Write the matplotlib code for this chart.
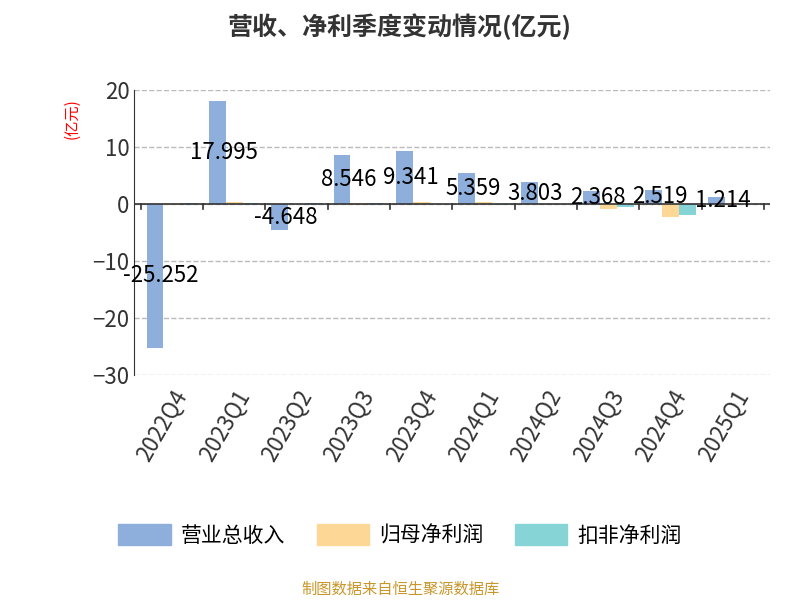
import matplotlib.pyplot as plt
import numpy as np

plt.rcParams["font.family"] = ["Noto Sans CJK SC", "DejaVu Sans"]

quarters = ["2022Q4", "2023Q1", "2023Q2", "2023Q3", "2023Q4",
            "2024Q1", "2024Q2", "2024Q3", "2024Q4", "2025Q1"]
revenue = [-25.252, 17.995, -4.648, 8.546, 9.341, 5.359, 3.803, 2.368, 2.519, 1.214]
net_profit = [-0.1, 0.3, 0.05, 0.2, 0.3, 0.3, 0.05, -0.8, -2.3, 0.1]
deducted = [0.2, 0.1, 0.1, 0.1, 0.05, -0.2, 0.05, -0.5, -2.0, 0.05]

fig = plt.figure(figsize=(8, 6), dpi=100)
ax = fig.add_axes([0.168, 0.375, 0.795, 0.475])
x = np.arange(len(quarters))
w = 0.27
ax.bar(x - w, revenue, w, color="#8eaedc")
ax.bar(x, net_profit, w, color="#fdd796")
ax.bar(x + w, deducted, w, color="#86d4d6")
for xi, v in zip(x, revenue):
    ax.text(xi - w + 0.1, v / 2, f"{v:.3f}", ha="center", va="center", fontsize=16, color="black")

ax.set_xlim(-0.6, 9.6)
ax.set_ylim(-30, 20)
ax.set_yticks([-30, -20, -10, 0, 10, 20])
ax.tick_params(axis="y", labelsize=16, colors="#333333", length=0)
ax.grid(axis="y", linestyle="--", color="#bbbbbb", linewidth=1)
ax.set_axisbelow(True)
for s in ["top", "right", "bottom"]:
    ax.spines[s].set_visible(False)
ax.spines["left"].set_color("#333333")
ax.axhline(0, color="#333333", linewidth=1.2)
ax.set_xticks(x)
ax.set_xticklabels(quarters, rotation=60, ha="right", rotation_mode="anchor", fontsize=16, color="#333333")
ax.tick_params(axis="x", length=0, pad=8)
for b in np.arange(-0.5, 10, 1):
    ax.plot([b, b], [0, -0.8], color="#333333", linewidth=1.2, clip_on=False)
ax.set_ylabel("(亿元)", color="red", fontsize=11, labelpad=2)
ax.yaxis.set_label_coords(-0.085, 0.9)

fig.text(0.5, 0.955, "营收、净利季度变动情况(亿元)", ha="center", va="center", fontsize=18, fontweight="bold", color="#333333")
handles = [plt.Rectangle((0, 0), 1, 1, color=c) for c in ["#8eaedc", "#fdd796", "#86d4d6"]]
fig.legend(handles, ["营业总收入", "归母净利润", "扣非净利润"], loc="center", bbox_to_anchor=(0.5, 0.108),
           ncol=3, frameon=False, fontsize=15, handlelength=2.5, handleheight=1.2, columnspacing=1.5,
           handletextpad=0.5)
fig.text(0.5, 0.018, "制图数据来自恒生聚源数据库", ha="center", va="center", fontsize=11, color="#c8962a")
fig.savefig("out.png")
